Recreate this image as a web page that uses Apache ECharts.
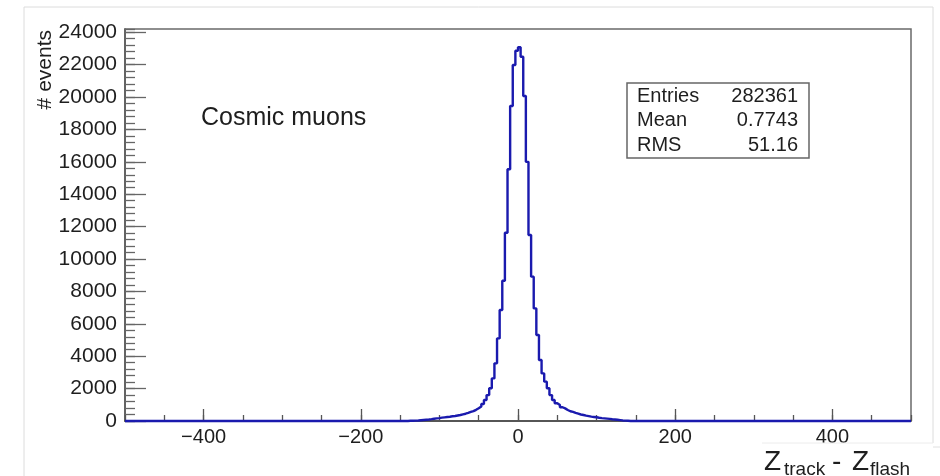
<!DOCTYPE html>
<html>
<head>
<meta charset="utf-8">
<script src="https://cdn.jsdelivr.net/npm/echarts@6/dist/echarts.min.js"></script>
<style>
  html, body { margin: 0; padding: 0; background: #fff; }
  #chart { width: 940px; height: 476px; }
</style>
</head>
<body>
<div id="chart"></div>
<script>
// Histogram binning: 300 equal bins over [-500, 500]
const binMin = -500;
const binMax = 500;
const binCount = 300;

// Bins with entries start at this lower edge; the remaining bins are empty
const coreFirstEdge = -140;
const coreCounts = [
  15, 20, 25, 35, 50, 65, 80, 95, 115, 140,
  160, 180, 205, 225, 245, 265, 290, 310, 340, 370,
  410, 450, 500, 560, 610, 690, 790, 900, 1050, 1300,
  1600, 2020, 2630, 3560, 5100, 6850, 8660, 11620, 15540, 19450,
  21980, 22860, 23070, 22490, 20060, 16000, 11480, 8910, 6950, 5310,
  3770, 2940, 2430, 2020, 1600, 1300, 1100, 990, 850, 780,
  680, 600, 560, 500, 450, 400, 370, 330, 300, 270,
  250, 230, 200, 175, 160, 145, 130, 110, 95, 75,
  55, 35, 25, 15
];

const xTickLabels = [-400, -200, 0, 200, 400];
const yTickLabels = [0, 2000, 4000, 6000, 8000, 10000, 12000, 14000, 16000, 18000, 20000, 22000, 24000];
const yMax = 24200;

const histTitle = 'Cosmic muons';
const yTitle = '# events';
const statsRows = [
  ['Entries', '282361'],
  ['Mean', '0.7743'],
  ['RMS', '51.16']
];

// Build the step outline from bin edges and counts
const binWidth = (binMax - binMin) / binCount;
const firstIdx = Math.round((coreFirstEdge - binMin) / binWidth);
const counts = new Array(binCount).fill(0);
coreCounts.forEach((c, i) => { counts[firstIdx + i] = c; });
const outline = counts.map((c, k) => [binMin + k * binWidth, c]);
outline.push([binMax, counts[binCount - 1]]);

const FONT = 'Liberation Sans, Arial, Helvetica, sans-serif';
const TXT = '#1e1e1e';

const fmtX = v => (v < 0 ? '\u2212' + (-v) : String(v));
const fmtY = v => String(v);

const chart = echarts.init(document.getElementById('chart'), null, { renderer: 'canvas' });

const statsLeft = 627, statsTop = 83, statsW = 182, statsH = 75;
const statsElements = [{
  type: 'rect',
  shape: { x: statsLeft, y: statsTop, width: statsW, height: statsH },
  style: { fill: '#fff', stroke: '#666', lineWidth: 1.5 },
  z: 10
}];
statsRows.forEach((row, i) => {
  const cy = statsTop + 13.5 + i * 24.3;
  statsElements.push({
    type: 'text', x: statsLeft + 10, y: cy, z: 11,
    style: { text: row[0], font: '20px ' + FONT, fill: TXT, align: 'left', verticalAlign: 'middle' }
  });
  statsElements.push({
    type: 'text', x: statsLeft + statsW - 11, y: cy, z: 11,
    style: { text: row[1], font: '20px ' + FONT, fill: TXT, align: 'right', verticalAlign: 'middle' }
  });
});

const option = {
  animation: false,
  backgroundColor: '#fff',
  grid: {
    left: 125, top: 29, width: 786, height: 392,
    show: true, borderColor: '#6a6a6a', borderWidth: 1.5, backgroundColor: 'transparent'
  },
  xAxis: [
    {
      type: 'value', min: binMin, max: binMax, interval: 50, position: 'bottom',
      axisLine: { show: true, onZero: false, lineStyle: { color: '#444', width: 1.5 } },
      axisTick: { show: true, inside: true, length: 6, lineStyle: { color: '#555', width: 1.3 } },
      axisLabel: {
        customValues: xTickLabels, formatter: fmtX,
        fontFamily: FONT, fontSize: 20, color: TXT, margin: 6
      },
      splitLine: { show: false }
    },
    {
      type: 'value', min: binMin, max: binMax, position: 'bottom',
      axisLine: { show: false, onZero: false },
      axisTick: { show: true, inside: true, length: 12, customValues: xTickLabels, lineStyle: { color: '#555', width: 1.3 } },
      axisLabel: { show: false },
      splitLine: { show: false }
    }
  ],
  yAxis: [
    {
      type: 'value', min: 0, max: yMax, interval: 400, position: 'left',
      axisLine: { show: true, onZero: false, lineStyle: { color: '#555', width: 1.5 } },
      axisTick: { show: true, inside: true, length: 10, lineStyle: { color: '#666', width: 1.3 } },
      axisLabel: {
        customValues: yTickLabels, formatter: fmtY,
        fontFamily: FONT, fontSize: 21, color: TXT, margin: 8
      },
      splitLine: { show: false }
    },
    {
      type: 'value', min: 0, max: yMax, position: 'left',
      axisLine: { show: false, onZero: false },
      axisTick: { show: true, inside: true, length: 21, customValues: yTickLabels, lineStyle: { color: '#666', width: 1.3 } },
      axisLabel: { show: false },
      splitLine: { show: false }
    }
  ],
  series: [{
    type: 'line',
    xAxisIndex: 0,
    yAxisIndex: 0,
    data: outline,
    step: 'end',
    showSymbol: false,
    symbol: 'none',
    clip: false,
    z: 5,
    lineStyle: { color: '#1a1aae', width: 2.4 }
  }],
  graphic: {
    elements: [
      // outer frame lines
      { type: 'line', shape: { x1: 24, y1: 7, x2: 24, y2: 476 }, style: { stroke: '#dcdcdc', lineWidth: 1 }, z: 1 },
      { type: 'line', shape: { x1: 24, y1: 7, x2: 933, y2: 7 }, style: { stroke: '#dcdcdc', lineWidth: 1 }, z: 1 },
      { type: 'line', shape: { x1: 933, y1: 7, x2: 933, y2: 443 }, style: { stroke: '#dcdcdc', lineWidth: 1 }, z: 1 },
      { type: 'line', shape: { x1: 762, y1: 443, x2: 933, y2: 443 }, style: { stroke: '#ececec', lineWidth: 1 }, z: 1 },
      { type: 'line', shape: { x1: 933, y1: 447, x2: 940, y2: 447 }, style: { stroke: '#e0e0e0', lineWidth: 1 }, z: 1 },
      // y-axis title
      {
        type: 'text', x: 45, y: 30, rotation: Math.PI / 2, z: 10,
        style: { text: yTitle, font: '21px ' + FONT, fill: TXT, align: 'right', verticalAlign: 'middle' }
      },
      // histogram caption
      {
        type: 'text', x: 201, y: 118, z: 10,
        style: { text: histTitle, font: '25px ' + FONT, fill: TXT, align: 'left', verticalAlign: 'middle' }
      },
      // x-axis title: Z_track - Z_flash
      { type: 'text', x: 764, y: 462, z: 10, style: { text: 'Z', font: '28px ' + FONT, fill: TXT, align: 'left', verticalAlign: 'middle' } },
      { type: 'text', x: 784, y: 470, z: 10, style: { text: 'track', font: '19px ' + FONT, fill: TXT, align: 'left', verticalAlign: 'middle' } },
      { type: 'text', x: 832, y: 462, z: 10, style: { text: '-', font: '28px ' + FONT, fill: TXT, align: 'left', verticalAlign: 'middle' } },
      { type: 'text', x: 852, y: 462, z: 10, style: { text: 'Z', font: '28px ' + FONT, fill: TXT, align: 'left', verticalAlign: 'middle' } },
      { type: 'text', x: 870, y: 470, z: 10, style: { text: 'flash', font: '19px ' + FONT, fill: TXT, align: 'left', verticalAlign: 'middle' } }
    ].concat(statsElements)
  }
};

chart.setOption(option);
</script>
</body>
</html>
